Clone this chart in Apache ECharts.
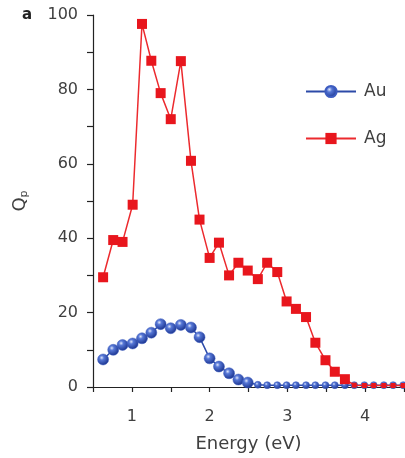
<!DOCTYPE html>
<html>
<head>
<meta charset="utf-8">
<script src="https://cdn.jsdelivr.net/npm/echarts@6/dist/echarts.min.js"></script>
<style>html,body{margin:0;padding:0;background:#fff}#c{width:405px;height:458px}</style>
</head>
<body>
<div id="c"></div>
<script>
var energy = [0.63,0.76,0.88,1.01,1.13,1.25,1.37,1.50,1.63,1.76,1.87,2.00,2.12,2.25,2.37,2.49,2.62,2.74,2.87,2.99,3.11,3.24,3.36,3.49,3.61,3.74,3.86,3.99,4.11,4.24,4.36,4.49];
var agValues = [29.5,39.5,39,49,97.6,87.7,79,72,87.6,60.8,45,34.7,38.8,30,33.4,31.3,29,33.4,30.9,23,21,18.8,11.9,7.2,4.1,2.1,0.5,0.4,0.4,0.4,0.4,0.4];
var auValues = [7.4,10,11.3,11.7,13.1,14.6,16.9,15.8,16.7,16,13.4,7.7,5.5,3.7,2,1.2,0.6,0.5,0.5,0.5,0.5,0.5,0.5,0.5,0.5,0.5,0.5,0.5,0.5,0.5,0.5,0.5];
var seriesNames = ['Au','Ag'];
var xTickLabels = [1,2,3,4];
var yTickLabels = [0,20,40,60,80,100];

function pairs(xs, ys){ return xs.map(function(x,i){ return [x, ys[i]]; }); }

var FONT = 'DejaVu Sans';
var TXT = '#404040';
var chart = echarts.init(document.getElementById('c'));
chart.setOption({
  animation: false,
  backgroundColor: '#fff',
  grid: { left: 93, right: 1, top: 15, bottom: 71, containLabel: false, outerBoundsMode: 'none' },
  xAxis: {
    type: 'value', min: 0.5, max: 4.5, interval: 0.5,
    name: 'Energy (eV)', nameLocation: 'middle', nameGap: 48,
    nameTextStyle: { fontFamily: FONT, fontSize: 18, color: TXT },
    axisLine: { show: true, onZero: false, lineStyle: { color: '#222', width: 1.2 } },
    axisTick: { show: true, inside: false, length: 5, lineStyle: { color: '#222', width: 1.2 } },
    splitLine: { show: false },
    axisLabel: { margin: 22, fontFamily: FONT, fontSize: 16, color: TXT,
      formatter: function(v){ return xTickLabels.indexOf(v) >= 0 ? String(v) : ''; } }
  },
  yAxis: {
    type: 'value', min: 0, max: 100, interval: 10,
    name: '{q|Q}{p|p}', nameLocation: 'middle', nameGap: 63, nameRotate: 90,
    nameTextStyle: { fontFamily: FONT, color: TXT,
      rich: { q: { fontFamily: FONT, fontSize: 18, color: TXT },
              p: { fontFamily: FONT, fontSize: 11, color: TXT, verticalAlign: 'bottom', padding: [8,0,0,0] } } },
    axisLine: { show: true, lineStyle: { color: '#222', width: 1.2 } },
    axisTick: { show: true, inside: false, length: 6, lineStyle: { color: '#222', width: 1.2 } },
    splitLine: { show: false },
    axisLabel: { margin: 15, fontFamily: FONT, fontSize: 16, color: TXT,
      formatter: function(v){ return yTickLabels.indexOf(v) >= 0 ? String(v) : ''; } }
  },
  legend: {
    orient: 'vertical', left: 300, top: 78, itemWidth: 50, itemHeight: 14, itemGap: 30,
    textStyle: { fontFamily: FONT, fontSize: 17, color: TXT, padding: [0,0,0,3] },
    data: seriesNames
  },
  graphic: [
    { type: 'text', left: 22, top: 8, style: { text: 'a', fontFamily: FONT, fontSize: 15, fontWeight: 'bold', fill: '#222' } }
  ],
  series: [
    { name: seriesNames[0], type: 'line', data: pairs(energy, auValues),
      symbol: 'circle', symbolSize: function(d){ return d[1] < 1 ? 7 : 11; }, showAllSymbol: true,
      lineStyle: { color: '#2c4aa8', width: 1.5 },
      itemStyle: { color: new echarts.graphic.RadialGradient(0.38, 0.35, 0.65, [
        { offset: 0, color: '#dfe6fb' }, { offset: 0.3, color: '#5677d6' }, { offset: 1, color: '#1c3590' }]),
        borderColor: '#3d5cc0', borderWidth: 0.5 },
      z: 2 },
    { name: seriesNames[1], type: 'line', data: pairs(energy, agValues),
      symbol: 'rect', symbolSize: function(d){ return d[1] < 1 ? 5 : 10; }, showAllSymbol: true,
      lineStyle: { color: '#ec2a2e', width: 1.5 },
      itemStyle: { color: '#e8161d' },
      z: 3 }
  ]
});
</script>
</body>
</html>
